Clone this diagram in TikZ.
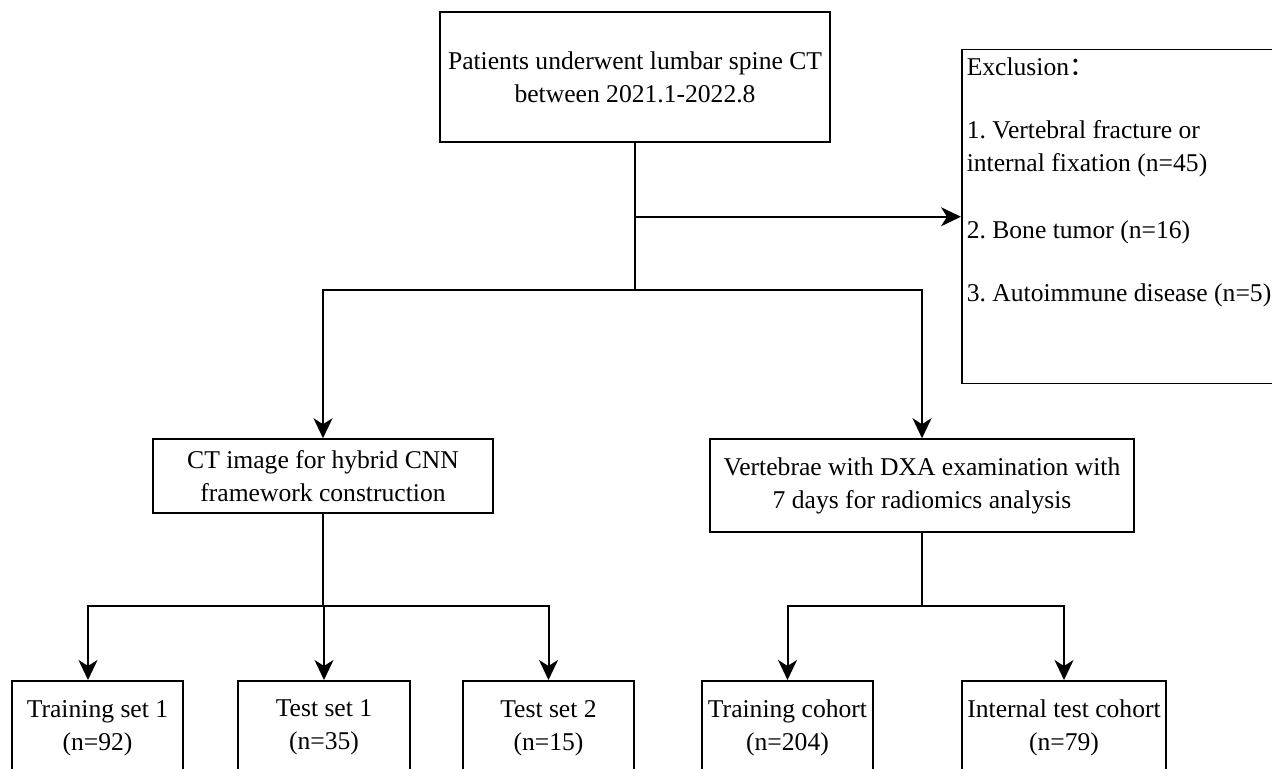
\documentclass[tikz,border=0pt]{standalone}
\usepackage{fontspec}
\setmainfont{Liberation Serif}
\newfontfamily\cjk{Noto Sans CJK SC}
\usetikzlibrary{positioning, arrows.meta}

\tikzset{
  stage/.style={draw, line width=0.75pt, align=center, inner sep=0pt,
    font=\fontsize{12.8}{16.5}\selectfont},
  cohort/.style={stage, anchor=north, minimum height=47pt},
  link/.style={line width=1pt},
  flow/.style={link, -{Stealth[length=10pt, width=9.5pt, inset=3pt]}}
}

\begin{document}
\frenchspacing
\begin{tikzpicture}[x=0.5pt, y=-0.5pt]
    \useasboundingbox (0,0) rectangle (1272,769);

    \node[stage, minimum width=195pt, minimum height=65pt] (patients) at (635,77)
        {Patients underwent lumbar spine CT\\between 2021.1-2022.8};
    \node[stage, anchor=north west, align=left, minimum width=170pt, minimum height=167pt,
          inner xsep=1.5pt, inner ysep=4pt] (excl) at (961,49)
        {\begin{minipage}[t][159pt][t]{165pt}
         Exclusion{\cjk ：}\\[15pt]
         1. Vertebral fracture or\\
         internal fixation (n=45)\\[17pt]
         2. Bone tumor (n=16)\\[15pt]
         3. Autoimmune disease (n=5)
         \end{minipage}};

    \node[stage, minimum width=170pt, minimum height=37pt] (ctimg) at (323,476)
        {CT image for hybrid CNN\\framework construction};
    \node[stage, minimum width=212pt, minimum height=46.5pt] (dxa) at (922,485.5)
        {Vertebrae with DXA examination with\\7 days for radiomics analysis};

    \node[cohort, minimum width=85.5pt] (train1) at (97.5,680) {Training set 1\\(n=92)};
    \node[cohort, minimum width=86pt] (test1) at (324,680) {Test set 1\\(n=35)};
    \node[cohort, minimum width=85.5pt] (test2) at (548.5,680) {Test set 2\\(n=15)};
    \node[cohort, minimum width=85.5pt] (traincoh) at (787.5,680) {Training cohort\\(n=204)};
    \node[cohort, minimum width=102pt] (inttest) at (1064,680) {Internal test cohort\\(n=79)};

    \coordinate (split1) at (635,290);
    \coordinate (split2) at (323,606);
    \coordinate (split3) at (922,606);

    \draw[link] (patients.south) -- (split1);
    \draw[flow] (patients.south |- excl.west) -- (excl.west);
    \draw[flow] (split1) -| (ctimg.north);
    \draw[flow] (split1) -| (dxa.north);

    \draw[link] (ctimg.south) -- (split2);
    \draw[flow] (split2) -| ([xshift=-4.75pt]train1.north);
    \draw[flow] (split2) -| (test1.north);
    \draw[flow] (split2) -| (test2.north);

    \draw[link] (dxa.south) -- (split3);
    \draw[flow] (split3) -| (traincoh.north);
    \draw[flow] (split3) -| (inttest.north);
\end{tikzpicture}
\end{document}
